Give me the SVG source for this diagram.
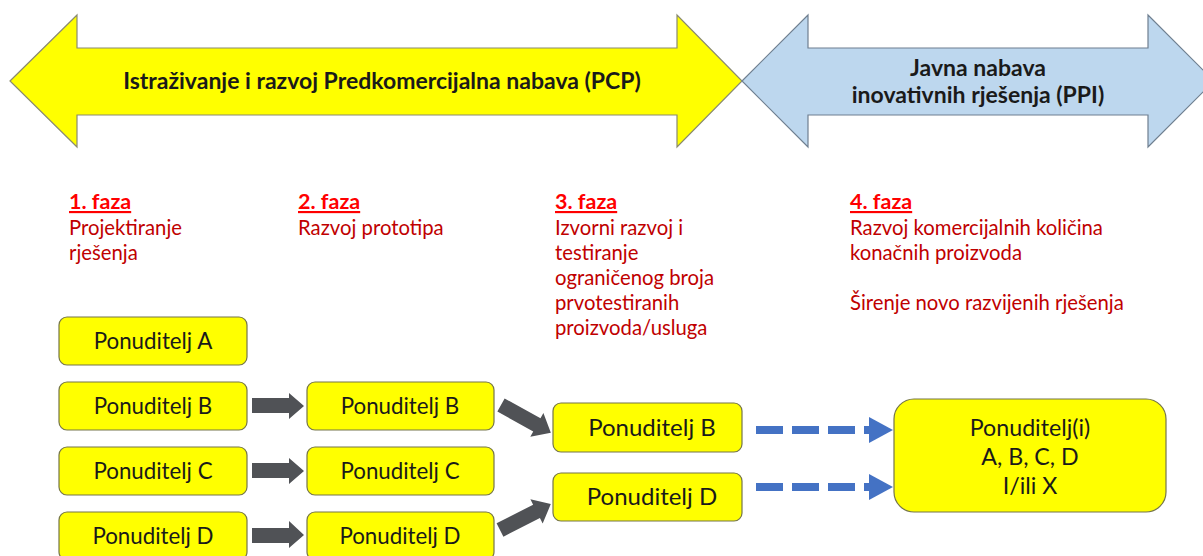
<svg xmlns="http://www.w3.org/2000/svg" width="1203" height="556" viewBox="0 0 1203 556">
<style>
.bg{fill:#ffffff}
.box{fill:#ffff00;stroke:#75754a;stroke-width:1.2}
.lbl{font-family:Lato,"Liberation Sans",sans-serif;font-size:22.3px;fill:#1a1a1a;text-anchor:middle}
.lbl3{font-family:Lato,"Liberation Sans",sans-serif;font-size:24px;fill:#1a1a1a;text-anchor:middle}
.lbl4{font-family:Lato,"Liberation Sans",sans-serif;font-size:23.2px;fill:#1a1a1a;text-anchor:middle}
.head{font-family:Lato,"Liberation Sans",sans-serif;font-size:23px;font-weight:bold;fill:#1a1a1a;text-anchor:middle}
.ph{font-family:Lato,"Liberation Sans",sans-serif;font-size:21.5px;font-weight:bold;fill:#ff0000;text-decoration:underline}
.desc{font-family:Lato,"Liberation Sans",sans-serif;font-size:20.3px;fill:#c00000}
.garrow{fill:#505256}
.bdash{stroke:#4472c4;stroke-width:8;stroke-dasharray:27 9;fill:none}
.bhead{fill:#4472c4}
</style>
<rect class="bg" x="0" y="0" width="1203" height="556"/>

<g id="pcp-arrow">
<polygon points="10,81 77,15 77,48 677,48 677,15 742,81 677,147 677,115 77,115 77,147" fill="#ffff00" stroke="#8a8a70" stroke-width="1.2"/>
<text class="head" x="382" y="89">Istraživanje i razvoj Predkomercijalna nabava (PCP)</text>
</g>

<g id="ppi-arrow">
<polygon points="742,81 808,15 808,48 1148,48 1148,15 1214,81 1148,147 1148,115 808,115 808,147" fill="#bdd7ee" stroke="#6f7f90" stroke-width="1.2"/>
<text class="head" x="978" y="76">Javna nabava</text>
<text class="head" x="978" y="103">inovativnih rješenja (PPI)</text>
</g>

<g id="faza1">
<text class="ph" x="69" y="209">1. faza</text>
<text class="desc" x="69" y="235">Projektiranje</text>
<text class="desc" x="69" y="260">rješenja</text>
</g>
<g id="faza2">
<text class="ph" x="298" y="209">2. faza</text>
<text class="desc" x="298" y="235">Razvoj prototipa</text>
</g>
<g id="faza3">
<text class="ph" x="555" y="209">3. faza</text>
<text class="desc" x="555" y="235">Izvorni razvoj i</text>
<text class="desc" x="555" y="260">testiranje</text>
<text class="desc" x="555" y="285">ograničenog broja</text>
<text class="desc" x="555" y="310">prvotestiranih</text>
<text class="desc" x="555" y="335">proizvoda/usluga</text>
</g>
<g id="faza4">
<text class="ph" x="850" y="209">4. faza</text>
<text class="desc" x="850" y="235">Razvoj komercijalnih količina</text>
<text class="desc" x="850" y="260">konačnih proizvoda</text>
<text class="desc" x="850" y="310">Širenje novo razvijenih rješenja</text>
</g>

<g id="p1a"><rect class="box" x="59" y="317" width="188" height="48" rx="8"/><text class="lbl" x="153" y="349">Ponuditelj A</text></g>
<g id="p1b"><rect class="box" x="59" y="382" width="188" height="48" rx="8"/><text class="lbl" x="153" y="414">Ponuditelj B</text></g>
<g id="p1c"><rect class="box" x="59" y="447" width="188" height="48" rx="8"/><text class="lbl" x="153" y="479">Ponuditelj C</text></g>
<g id="p1d"><rect class="box" x="59" y="512" width="188" height="48" rx="8"/><text class="lbl" x="153" y="544">Ponuditelj D</text></g>

<g id="p2b"><rect class="box" x="307" y="382" width="187" height="48" rx="8"/><text class="lbl" x="400" y="414">Ponuditelj B</text></g>
<g id="p2c"><rect class="box" x="307" y="447" width="187" height="48" rx="8"/><text class="lbl" x="400" y="479">Ponuditelj C</text></g>
<g id="p2d"><rect class="box" x="307" y="512" width="187" height="48" rx="8"/><text class="lbl" x="400" y="544">Ponuditelj D</text></g>

<g id="p3b"><rect class="box" x="553" y="403" width="189" height="49" rx="8"/><text class="lbl3" x="652" y="436">Ponuditelj B</text></g>
<g id="p3d"><rect class="box" x="553" y="473" width="189" height="48" rx="8"/><text class="lbl3" x="652" y="505">Ponuditelj D</text></g>

<g id="p4"><rect class="box" x="894" y="399" width="272" height="113" rx="20"/>
<text class="lbl4" x="1030" y="436">Ponuditelj(i)</text>
<text class="lbl4" x="1030" y="465">A, B, C, D</text>
<text class="lbl4" x="1030" y="494">I/ili X</text>
</g>

<g id="connectors">
<polygon class="garrow" points="252,398 289,398 289,393 304,406 289,419 289,413 252,413"/>
<polygon class="garrow" points="252,463 289,463 289,458 304,471 289,484 289,478 252,478"/>
<polygon class="garrow" points="252,528 289,528 289,521 304,535 289,548 289,543 252,543"/>
<polygon class="garrow" points="0,-7.5 41,-7.5 41,-13.5 57,0 41,13.5 41,7.5 0,7.5" transform="translate(501,405) rotate(29)"/>
<polygon class="garrow" points="0,-7.5 41,-7.5 41,-13.5 57,0 41,13.5 41,7.5 0,7.5" transform="translate(500,530) rotate(-27)"/>
<line class="bdash" x1="756" y1="430" x2="869" y2="430"/>
<polygon class="bhead" points="869,417 893,430 869,443"/>
<line class="bdash" x1="756" y1="487" x2="869" y2="487"/>
<polygon class="bhead" points="869,474 893,487 869,500"/>
</g>
</svg>
